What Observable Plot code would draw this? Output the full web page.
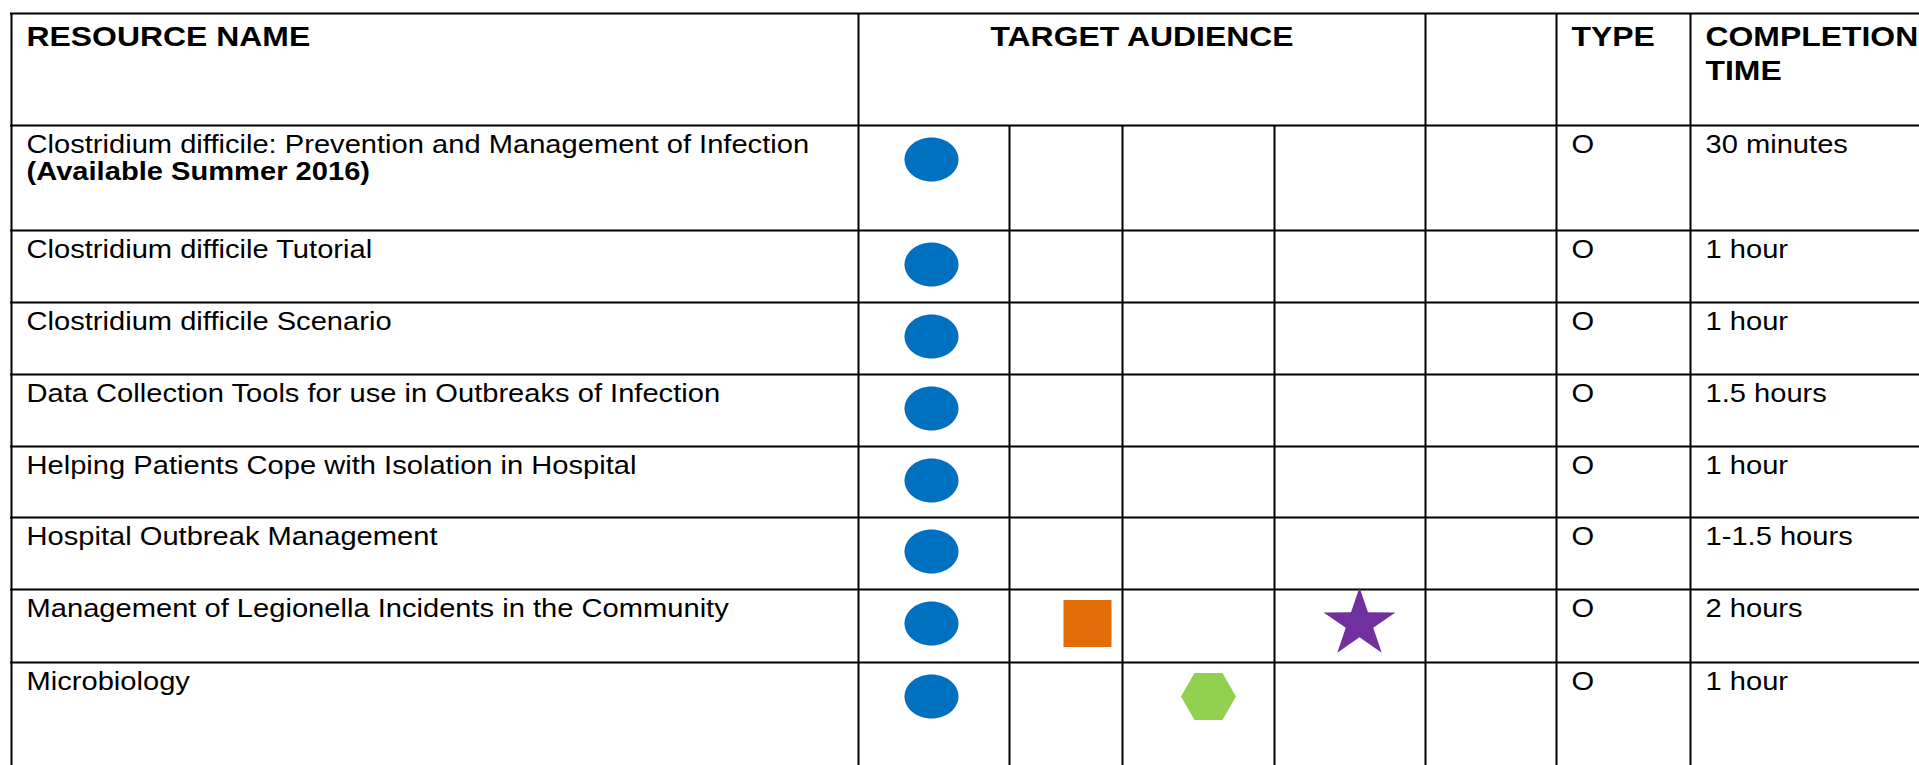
<!DOCTYPE html>
<html><head><meta charset="utf-8">
<script src="https://cdn.jsdelivr.net/npm/d3@7"></script>
<script src="https://cdn.jsdelivr.net/npm/@observablehq/plot@0.6"></script>
<style>html,body{margin:0;padding:0;background:#fff;overflow:hidden}</style>
</head><body><div id="chart"></div>
<script>
// ---------- data ----------
const headerLabels = ["RESOURCE NAME", "TARGET AUDIENCE", "TYPE", "COMPLETION\nTIME"];
const resourceNames = [
  "Clostridium difficile: Prevention and Management of Infection",
  "Clostridium difficile Tutorial",
  "Clostridium difficile Scenario",
  "Data Collection Tools for use in Outbreaks of Infection",
  "Helping Patients Cope with Isolation in Hospital",
  "Hospital Outbreak Management",
  "Management of Legionella Incidents in the Community",
  "Microbiology"
];
const resourceNotes = ["(Available Summer 2016)", "", "", "", "", "", "", ""];
const resourceTypes = ["O", "O", "O", "O", "O", "O", "O", "O"];
const completionTimes = ["30 minutes", "1 hour", "1 hour", "1.5 hours", "1 hour", "1-1.5 hours", "2 hours", "1 hour"];
// target audience columns (1 = resource suits that audience)
const audienceBlue   = [1, 1, 1, 1, 1, 1, 1, 1];
const audienceOrange = [0, 0, 0, 0, 0, 0, 1, 0];
const audienceGreen  = [0, 0, 0, 0, 0, 0, 0, 1];
const audiencePurple = [0, 0, 0, 0, 0, 0, 1, 0];
const audienceFifth  = [0, 0, 0, 0, 0, 0, 0, 0];

// ---------- layout ----------
const W = 1919, H = 765;
const colEdges = [11, 858, 1009, 1122, 1274, 1425, 1556, 1690, 1960];
const colInHeader = [true, true, false, false, false, true, true, true, true];
const rowEdges = [13, 125, 230, 302, 374, 446, 517, 589, 662, 820];
const markerX = [931, 1087, 1208, 1359, 1490];
const markerDy = 34, textDy = 27.5, notePitch = 27, pad = 15;
const headerBase = 45, headerPitch = 35;
const FONT = "Liberation Sans, Arial, sans-serif";
const FS = 26, HFS = 28.5, STRETCH = 1.12;

// ---------- custom symbols ----------
const K = 0.5523;
const ellipseSym = {draw(c) { const rx = 27, ry = 22;
  c.moveTo(rx, 0);
  c.bezierCurveTo(rx, ry*K, rx*K, ry, 0, ry);
  c.bezierCurveTo(-rx*K, ry, -rx, ry*K, -rx, 0);
  c.bezierCurveTo(-rx, -ry*K, -rx*K, -ry, 0, -ry);
  c.bezierCurveTo(rx*K, -ry, rx, -ry*K, rx, 0);
  c.closePath(); }};
const squareSym = {draw(c) { c.moveTo(-24, -23.5); c.lineTo(24, -23.5); c.lineTo(24, 23.5); c.lineTo(-24, 23.5); c.closePath(); }};
const hexSym = {draw(c) { c.moveTo(-27.5, 0); c.lineTo(-14, -23.5); c.lineTo(14, -23.5); c.lineTo(27.5, 0); c.lineTo(14, 23.5); c.lineTo(-14, 23.5); c.closePath(); }};
const starSym = {draw(c) { const R = 36, r = R * 0.382, sx = 1.05;
  for (let i = 0; i < 10; i++) {
    const a = -Math.PI / 2 + i * Math.PI / 5, rr = i % 2 ? r : R;
    const px = Math.cos(a) * rr * sx, py = Math.sin(a) * rr;
    i ? c.lineTo(px, py) : c.moveTo(px, py);
  }
  c.closePath(); }};

// ---------- derived tables ----------
const rows = resourceNames.map((name, i) => ({row: i, name, note: resourceNotes[i], type: resourceTypes[i], time: completionTimes[i]}));
const audienceSets = [
  {values: audienceBlue, sym: ellipseSym, color: "#0070C0"},
  {values: audienceOrange, sym: squareSym, color: "#E36C09"},
  {values: audienceGreen, sym: hexSym, color: "#92D050"},
  {values: audiencePurple, sym: starSym, color: "#7030A0"},
  {values: audienceFifth, sym: ellipseSym, color: "#888"}
];
const hLines = rowEdges.map(y => ({y}));
const vLines = colEdges.map((x, i) => ({x, y1: colInHeader[i] ? rowEdges[0] : rowEdges[1], y2: rowEdges[rowEdges.length - 1]}));
const headersStart = [
  {label: headerLabels[0], x: colEdges[0] + pad},
  {label: headerLabels[2], x: colEdges[6] + pad},
  {label: headerLabels[3], x: colEdges[7] + pad}
];
const headersMiddle = [{label: headerLabels[1], x: (colEdges[1] + colEdges[5]) / 2}];
const rowTop = d => rowEdges[d.row + 1];
const textOpts = {lineAnchor: "bottom", fontSize: FS, fontFamily: FONT, fill: "#000"};
const headOpts = {lineAnchor: "top", fontSize: HFS, fontFamily: FONT, fill: "#000", fontWeight: "bold", lineHeight: headerPitch / HFS};
// lineAnchor top puts the first baseline 0.71*lineHeight em below y
const headY = () => headerBase - 0.71 * headerPitch;

const marks = [
  Plot.ruleY(hLines, {y: "y", x1: colEdges[0] - 1, x2: colEdges[colEdges.length - 1], stroke: "#000", strokeWidth: 2}),
  Plot.ruleX(vLines, {x: "x", y1: "y1", y2: "y2", stroke: "#000", strokeWidth: 2}),
  Plot.text(headersStart, {x: "x", y: headY, text: "label", textAnchor: "start", ...headOpts}),
  Plot.text(headersMiddle, {x: "x", y: headY, text: "label", textAnchor: "middle", ...headOpts}),
  Plot.text(rows, {x: () => colEdges[0] + pad, y: d => rowTop(d) + textDy, text: "name", textAnchor: "start", ...textOpts}),
  Plot.text(rows.filter(d => d.note), {x: () => colEdges[0] + pad, y: d => rowTop(d) + textDy + notePitch, text: "note", textAnchor: "start", ...textOpts, fontWeight: "bold"}),
  Plot.text(rows, {x: () => colEdges[6] + pad, y: d => rowTop(d) + textDy, text: "type", textAnchor: "start", ...textOpts}),
  Plot.text(rows, {x: () => colEdges[7] + pad, y: d => rowTop(d) + textDy, text: "time", textAnchor: "start", ...textOpts})
];
audienceSets.forEach((a, k) => {
  const pts = rows.filter(d => a.values[d.row]);
  marks.push(Plot.dot(pts, {x: () => markerX[k], y: d => rowTop(d) + markerDy, symbol: a.sym, fill: a.color, stroke: "none", r: 1}));
});

const svg = Plot.plot({
  width: W, height: H,
  margin: 0, marginTop: 0, marginRight: 0, marginBottom: 0, marginLeft: 0,
  x: {type: "linear", domain: [0, W], range: [0, W], axis: null},
  y: {type: "linear", domain: [0, H], range: [0, H], axis: null},
  style: {background: "#fff"},
  marks
});
// the source table is slightly stretched horizontally
d3.select(svg).selectAll("text").each(function () {
  const t = this.getAttribute("transform");
  if (t) this.setAttribute("transform", t + ` scale(${STRETCH},1)`);
});
document.getElementById("chart").appendChild(svg);
</script>
</body></html>
